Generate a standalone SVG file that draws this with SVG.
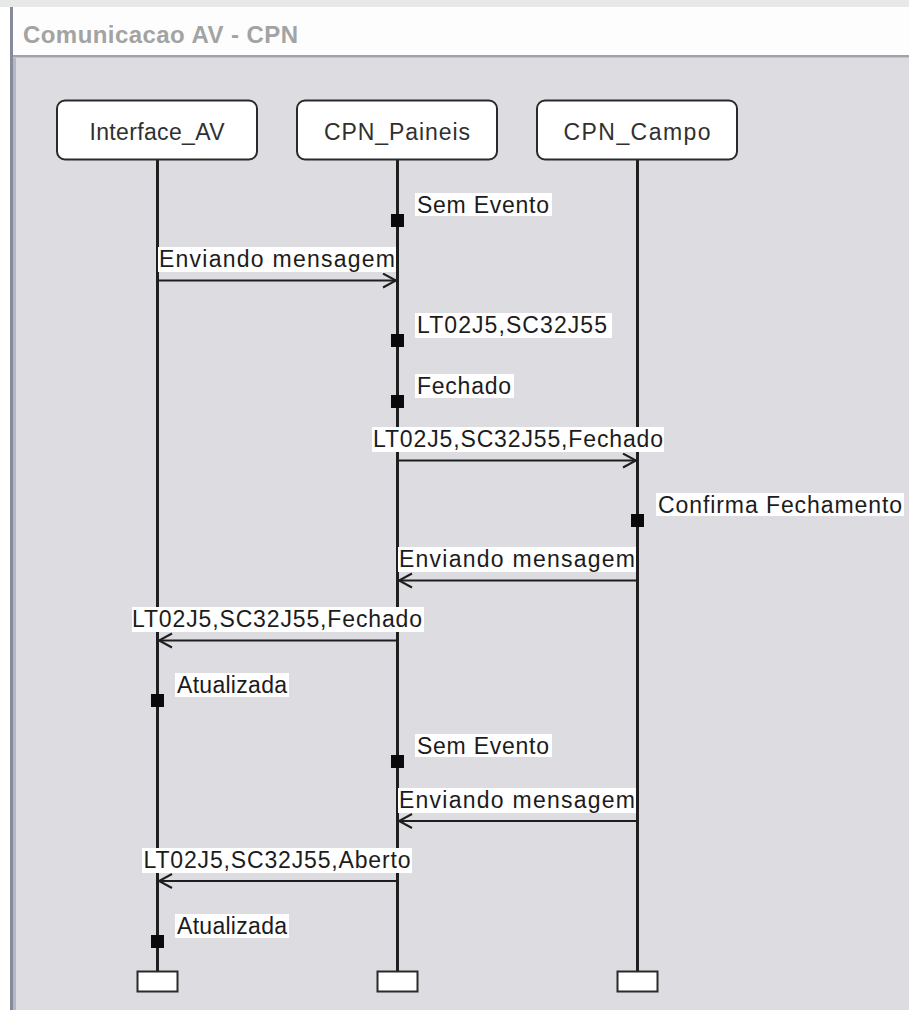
<svg xmlns="http://www.w3.org/2000/svg" width="909" height="1010" viewBox="0 0 909 1010">
  <style>
    .title { font-family: "Liberation Sans", Arial, sans-serif; font-weight: bold; font-size: 24px; fill: #a3a3a3; }
    .node-box { fill: #ffffff; stroke: #2a2a2a; stroke-width: 2; }
    .node-txt { font-family: "Liberation Sans", Arial, sans-serif; font-size: 23px; fill: #303030; text-anchor: middle; }
    .life { stroke: #1e1e1e; stroke-width: 3; fill: none; }
    .end-box { fill: #ffffff; stroke: #2a2a2a; stroke-width: 2; }
    .evt { fill: #0a0a0a; }
    .lbl { font-family: "Liberation Sans", Arial, sans-serif; font-size: 23px; fill: #1c1c1c; }
    .mid { text-anchor: middle; }
    .lbl-bg { fill: #ffffff; }
    .msg { stroke: #1e1e1e; stroke-width: 2; fill: none; marker-end: url(#open); }
  </style>
  <defs>
    <marker id="open" markerUnits="userSpaceOnUse" markerWidth="18" markerHeight="18" refX="14" refY="8" orient="auto">
      <path d="M1,1 L14,8 L1,15" fill="none" stroke="#1e1e1e" stroke-width="2"/>
    </marker>
  </defs>

  <!-- window frame -->
  <rect x="0" y="0" width="909" height="1010" fill="#ffffff"/>
  <rect x="0" y="0" width="909" height="7" fill="#e8e8e8"/>
  <rect x="13" y="7" width="896" height="48" fill="#fdfdfd"/>
  <rect x="13" y="55" width="896" height="2" fill="#9ea2ad"/>
  <rect x="13" y="57" width="896" height="1" fill="#c2c5cc"/>
  <rect x="16" y="58" width="893" height="952" fill="#dddde1"/>
  <rect x="10" y="7" width="3" height="1003" fill="#858b9b"/>
  <rect x="13" y="58" width="3" height="952" fill="#b4b8c6"/>
  <text class="title" x="23" y="43" textLength="275" lengthAdjust="spacing">Comunicacao AV - CPN</text>

  <!-- lifelines -->
  <g id="lifelines">
    <line class="life" x1="157.5" y1="160" x2="157.5" y2="972"/>
    <line class="life" x1="397.5" y1="160" x2="397.5" y2="972"/>
    <line class="life" x1="637.5" y1="160" x2="637.5" y2="972"/>
  </g>

  <!-- participants -->
  <g id="interface_av">
    <rect class="node-box" x="57" y="100.5" width="200" height="59" rx="8"/>
    <text class="node-txt" x="157" y="140" textLength="135" lengthAdjust="spacing">Interface_AV</text>
    <rect class="end-box" x="137.5" y="971.5" width="40" height="20"/>
  </g>
  <g id="cpn_paineis">
    <rect class="node-box" x="297" y="100.5" width="200" height="59" rx="8"/>
    <text class="node-txt" x="397" y="140" textLength="146" lengthAdjust="spacing">CPN_Paineis</text>
    <rect class="end-box" x="377.5" y="971.5" width="40" height="20"/>
  </g>
  <g id="cpn_campo">
    <rect class="node-box" x="537" y="100.5" width="200" height="59" rx="8"/>
    <text class="node-txt" x="637" y="140" textLength="147" lengthAdjust="spacing">CPN_Campo</text>
    <rect class="end-box" x="617.5" y="971.5" width="40" height="20"/>
  </g>

  <!-- state events on lifelines -->
  <g id="events">
    <rect class="lbl-bg" x="415" y="193" width="137" height="23"/>
    <text class="lbl" x="417" y="213" textLength="132" lengthAdjust="spacing">Sem Evento</text>
    <rect class="evt" x="391" y="214" width="13" height="13"/>

    <rect class="lbl-bg" x="415" y="313" width="197" height="25"/>
    <text class="lbl" x="417" y="333" textLength="190" lengthAdjust="spacing">LT02J5,SC32J55</text>
    <rect class="evt" x="391" y="334" width="13" height="13"/>

    <rect class="lbl-bg" x="415" y="374" width="99" height="24"/>
    <text class="lbl" x="417" y="394" textLength="94" lengthAdjust="spacing">Fechado</text>
    <rect class="evt" x="391" y="395" width="13" height="13"/>

    <rect class="lbl-bg" x="656" y="493" width="248" height="23"/>
    <text class="lbl" x="658" y="513" textLength="244" lengthAdjust="spacing">Confirma Fechamento</text>
    <rect class="evt" x="631" y="514" width="13" height="13"/>

    <rect class="lbl-bg" x="175" y="673" width="114" height="24"/>
    <text class="lbl" x="177" y="693" textLength="110" lengthAdjust="spacing">Atualizada</text>
    <rect class="evt" x="151" y="694" width="13" height="13"/>

    <rect class="lbl-bg" x="415" y="734" width="137" height="23"/>
    <text class="lbl" x="417" y="754" textLength="132" lengthAdjust="spacing">Sem Evento</text>
    <rect class="evt" x="391" y="755" width="13" height="13"/>

    <rect class="lbl-bg" x="175" y="914" width="114" height="24"/>
    <text class="lbl" x="177" y="934" textLength="110" lengthAdjust="spacing">Atualizada</text>
    <rect class="evt" x="151" y="935" width="13" height="13"/>
  </g>

  <!-- messages -->
  <g id="connectors">
    <rect class="lbl-bg" x="158" y="247" width="238" height="25"/>
    <text class="lbl mid" x="277" y="267" textLength="236" lengthAdjust="spacing">Enviando mensagem</text>
    <line class="msg" x1="159" y1="280.5" x2="396" y2="280.5"/>

    <rect class="lbl-bg" x="372" y="427" width="292" height="25"/>
    <text class="lbl mid" x="518" y="447" textLength="290" lengthAdjust="spacing">LT02J5,SC32J55,Fechado</text>
    <line class="msg" x1="399" y1="460.5" x2="636" y2="460.5"/>

    <rect class="lbl-bg" x="398" y="547" width="238" height="25"/>
    <text class="lbl mid" x="517" y="567" textLength="236" lengthAdjust="spacing">Enviando mensagem</text>
    <line class="msg" x1="636" y1="580.5" x2="399" y2="580.5"/>

    <rect class="lbl-bg" x="132" y="607" width="292" height="25"/>
    <text class="lbl mid" x="277" y="627" textLength="290" lengthAdjust="spacing">LT02J5,SC32J55,Fechado</text>
    <line class="msg" x1="396" y1="640.5" x2="159" y2="640.5"/>

    <rect class="lbl-bg" x="398" y="788" width="238" height="25"/>
    <text class="lbl mid" x="517" y="808" textLength="236" lengthAdjust="spacing">Enviando mensagem</text>
    <line class="msg" x1="636" y1="821" x2="399" y2="821"/>

    <rect class="lbl-bg" x="142" y="848" width="270" height="25"/>
    <text class="lbl mid" x="277" y="868" textLength="267" lengthAdjust="spacing">LT02J5,SC32J55,Aberto</text>
    <line class="msg" x1="396" y1="881" x2="159" y2="881"/>
  </g>
</svg>
